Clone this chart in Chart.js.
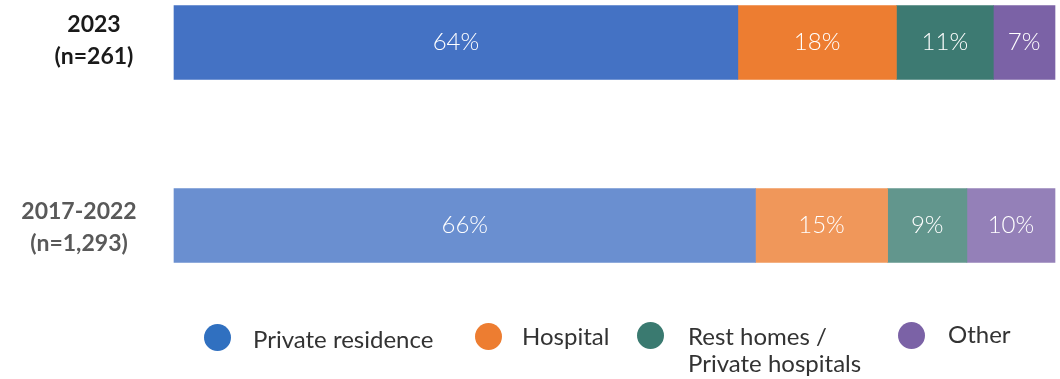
<!DOCTYPE html>
<html>
<head>
<meta charset="utf-8">
<script src="https://cdn.jsdelivr.net/npm/chart.js@4"></script>
<style>
  html, body { margin: 0; padding: 0; background: #fff; }
  #wrap { position: relative; width: 1060px; height: 379px; }
  #legend { position: absolute; left: 0; top: 0; width: 1060px; height: 379px; pointer-events: none;
            font-family: "Lato", "Open Sans", sans-serif; font-size: 24px; color: #333; }
  .dot { position: absolute; width: 27px; height: 27px; border-radius: 50%; }
  .txt { position: absolute; line-height: 27px; white-space: nowrap; }
</style>
</head>
<body>
<div id="wrap">
  <canvas id="chart" width="1060" height="379"></canvas>
  <div id="legend"></div>
</div>
<script>
const periods = ['2023', '2017-2022'];
const periodLines = [['2023', '(n=261)'], ['2017-2022', '(n=1,293)']];
const places = ['Private residence', 'Hospital', 'Rest homes / Private hospitals', 'Other'];
const placeLines = [['Private residence'], ['Hospital'], ['Rest homes /', 'Private hospitals'], ['Other']];

const privateResidence = [64, 66];
const hospital = [18, 15];
const restHomes = [11, 9];
const other = [7, 10];

// dark shade for 2023, lighter shade for 2017-2022
const colours = [
  ['#4472C4', '#6A8FD0'],
  ['#ED7D31', '#F0975A'],
  ['#3D7A72', '#62968D'],
  ['#7B62A6', '#9480B8']
];
const legendColours = ['#3070C0', '#ED7D31', '#3A7A70', '#7B62A6'];

const series = [privateResidence, hospital, restHomes, other];

const datasets = series.map((values, i) => ({
  label: places[i],
  data: values,
  backgroundColor: colours[i],
  borderWidth: 0,
  barThickness: 74,
  clip: false
}));

// white percentages inside each segment
const segmentLabels = {
  id: 'segmentLabels',
  afterDatasetsDraw(chart) {
    const ctx = chart.ctx;
    ctx.save();
    ctx.fillStyle = '#fff';
    ctx.font = '300 24px Lato, "Open Sans", sans-serif';
    ctx.textAlign = 'center';
    ctx.textBaseline = 'middle';
    chart.data.datasets.forEach((ds, i) => {
      chart.getDatasetMeta(i).data.forEach((bar, j) => {
        const p = bar.getProps(['x', 'y', 'base'], true);
        ctx.fillText(ds.data[j] + '%', (p.x + p.base) / 2, p.y);
      });
    });
    ctx.restore();
  }
};

// period names on the left
const periodNames = {
  id: 'periodNames',
  afterDraw(chart) {
    const ctx = chart.ctx;
    const yScale = chart.scales.y;
    const centres = [94, 79];
    const shifts = [-2, 2.5];
    const inks = ['#1a1a1a', '#595959'];
    ctx.save();
    ctx.font = 'bold 23px Lato, "Open Sans", sans-serif';
    ctx.textAlign = 'center';
    ctx.textBaseline = 'middle';
    periodLines.forEach((lines, i) => {
      const y = yScale.getPixelForTick(i) + shifts[i];
      ctx.fillStyle = inks[i];
      lines.forEach((line, k) => {
        ctx.fillText(line, centres[i], y + (k - 0.5) * 32);
      });
    });
    ctx.restore();
  }
};

new Chart(document.getElementById('chart'), {
  type: 'bar',
  data: { labels: periods, datasets: datasets },
  options: {
    indexAxis: 'y',
    responsive: false,
    animation: false,
    layout: { padding: { left: 174, right: 5, top: 42.5, bottom: 153.5 } },
    scales: {
      x: { stacked: true, min: 0, max: 100, display: false },
      y: { stacked: true, offset: false, display: false }
    },
    plugins: {
      legend: { display: false },
      tooltip: { enabled: false }
    }
  },
  plugins: [segmentLabels, periodNames]
});

// legend below the bars
const legendSpots = [
  { dotX: 204, dotY: 324, textX: 253, textY: 325 },
  { dotX: 475, dotY: 323, textX: 522, textY: 322 },
  { dotX: 637, dotY: 322, textX: 688, textY: 322 },
  { dotX: 898, dotY: 322, textX: 948, textY: 320 }
];
const legend = document.getElementById('legend');
placeLines.forEach((lines, i) => {
  const spot = legendSpots[i];
  const dot = document.createElement('div');
  dot.className = 'dot';
  dot.style.left = spot.dotX + 'px';
  dot.style.top = spot.dotY + 'px';
  dot.style.background = legendColours[i];
  const txt = document.createElement('div');
  txt.className = 'txt';
  txt.style.left = spot.textX + 'px';
  txt.style.top = spot.textY + 'px';
  txt.innerHTML = lines.join('<br>');
  legend.appendChild(dot);
  legend.appendChild(txt);
});
</script>
</body>
</html>
